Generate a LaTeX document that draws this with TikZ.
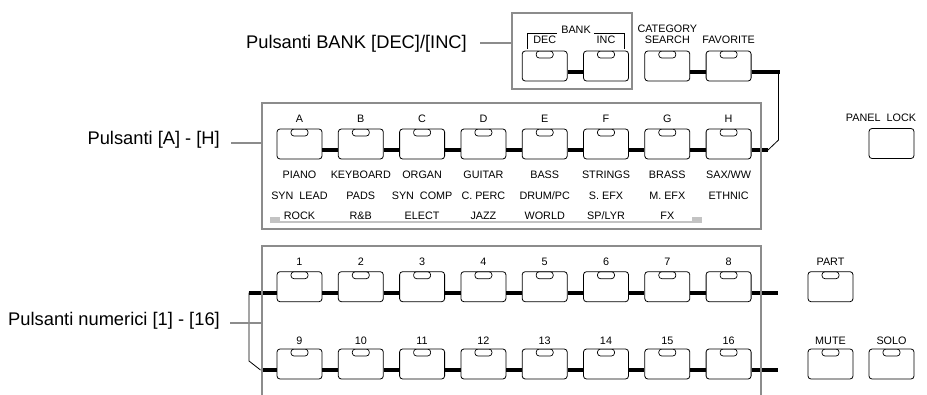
\documentclass[tikz,border=0pt]{standalone}
\usepackage{fontspec}
\setmainfont{Liberation Sans}
\definecolor{boxgray}{RGB}{140,140,140}
\definecolor{bargray}{RGB}{195,195,195}
\tikzset{
  btn/.style={draw, rounded corners=3pt, line width=0.8pt, minimum width=45pt, minimum height=30pt, inner sep=0pt},
  led/.style={btn, path picture={\draw[line width=0.7pt] ([xshift=-8.5pt]path picture bounding box.north) rectangle ([xshift=8.5pt,yshift=-7pt]path picture bounding box.north);}},
  lbl/.style={font=\fontsize{10.8}{12}\selectfont, anchor=base, inner sep=0pt},
  big/.style={font=\fontsize{18.3}{22}\selectfont, anchor=base east, inner sep=0pt},
  grp/.style={draw=boxgray, line width=2.2pt, inner sep=0pt},
  lead/.style={draw=boxgray, line width=2pt},
  bar/.style={line width=4pt},
  thin/.style={line width=0.8pt},
}
\begin{document}
\begin{tikzpicture}[x=1pt, y=-1pt]
\useasboundingbox (0,0) rectangle (927,394);
% top row
\node[led] (dec) at (544.7,66) {};
\node[led] (inc) at (606,66) {};
\node[led] (cat) at (667.3,66) {};
\node[led] (fav) at (728.6,66) {};
\node[lbl] (bank) at (576,33.5) {BANK};
\node[lbl] (ldec) at (544.7,43.8) {DEC};
\node[lbl] (linc) at (606,43.8) {INC};
\node[lbl] (lcat) at (667.3,32.8) {CATEGORY};
\node[lbl] (lsrc) at (667.3,43.8) {SEARCH};
\node[lbl] (lfav) at (728.6,43.8) {FAVORITE};
\draw[thin] (527,49) |- (557,33);
\draw[thin] (594,33) -| (624,49);
\draw[bar] ([yshift=-6pt]dec.east) -- ([yshift=-6pt]inc.west);
\draw[bar] ([yshift=-6pt]cat.east) -- ([yshift=-6pt]fav.west);
% A - H
\node[led] (a) at (299.5,144) {};
\node[led] (b) at (360.8,144) {};
\node[led] (c) at (422.1,144) {};
\node[led] (d) at (483.4,144) {};
\node[led] (e) at (544.7,144) {};
\node[led] (f) at (606,144) {};
\node[led] (g) at (667.3,144) {};
\node[led] (h) at (728.6,144) {};
\node[lbl] at (299.5,122) {A};
\node[lbl] at (360.8,122) {B};
\node[lbl] at (422.1,122) {C};
\node[lbl] at (483.4,122) {D};
\node[lbl] at (544.7,122) {E};
\node[lbl] at (606,122) {F};
\node[lbl] at (667.3,122) {G};
\node[lbl] at (728.6,122) {H};
\node[lbl] at (299.5,178) {PIANO};
\node[lbl] at (360.8,178) {KEYBOARD};
\node[lbl] at (422.1,178) {ORGAN};
\node[lbl] at (483.4,178) {GUITAR};
\node[lbl] at (544.7,178) {BASS};
\node[lbl] at (606,178) {STRINGS};
\node[lbl] at (667.3,178) {BRASS};
\node[lbl] at (728.6,178) {SAX/WW};
\node[lbl] at (299.5,199) {SYN~~LEAD};
\node[lbl] at (360.8,199) {PADS};
\node[lbl] at (422.1,199) {SYN~~COMP};
\node[lbl] at (483.4,199) {C. PERC};
\node[lbl] at (544.7,199) {DRUM/PC};
\node[lbl] at (606,199) {S. EFX};
\node[lbl] at (667.3,199) {M. EFX};
\node[lbl] at (728.6,199) {ETHNIC};
\node[lbl] at (299.5,219.5) {ROCK};
\node[lbl] at (360.8,219.5) {R\&B};
\node[lbl] at (422.1,219.5) {ELECT};
\node[lbl] at (483.4,219.5) {JAZZ};
\node[lbl] at (544.7,219.5) {WORLD};
\node[lbl] at (606,219.5) {SP/LYR};
\node[lbl] at (667.3,219.5) {FX};
\fill[bargray] (270,216.7) rectangle (280,222.5);
\fill[bargray] (691.7,216.7) rectangle (701.7,222.5);
\draw[bargray, line width=2pt] (270,221.5) -- (701.7,221.5);
\draw[bar] ([yshift=-6pt]a.east) -- ([yshift=-6pt]b.west);
\draw[bar] ([yshift=-6pt]b.east) -- ([yshift=-6pt]c.west);
\draw[bar] ([yshift=-6pt]c.east) -- ([yshift=-6pt]d.west);
\draw[bar] ([yshift=-6pt]d.east) -- ([yshift=-6pt]e.west);
\draw[bar] ([yshift=-6pt]e.east) -- ([yshift=-6pt]f.west);
\draw[bar] ([yshift=-6pt]f.east) -- ([yshift=-6pt]g.west);
\draw[bar] ([yshift=-6pt]g.east) -- ([yshift=-6pt]h.west);
% favorite -> H
\coordinate (favr) at (778.5,72);
\coordinate (favd) at (778.5,140);
\coordinate (hr) at (768,150);
\draw[bar] ([yshift=-6pt]fav.east) -- ([xshift=1pt]favr);
\draw[thin] (favr) -- (favd) -- (hr);
\draw[bar] ([yshift=-6pt]h.east) -- (hr);
% 1 - 16
\node[led] (n1) at (299.5,286.7) {};
\node[led] (n2) at (360.8,286.7) {};
\node[led] (n3) at (422.1,286.7) {};
\node[led] (n4) at (483.4,286.7) {};
\node[led] (n5) at (544.7,286.7) {};
\node[led] (n6) at (606,286.7) {};
\node[led] (n7) at (667.3,286.7) {};
\node[led] (n8) at (728.6,286.7) {};
\node[led] (n9) at (299.5,364) {};
\node[led] (n10) at (360.8,364) {};
\node[led] (n11) at (422.1,364) {};
\node[led] (n12) at (483.4,364) {};
\node[led] (n13) at (544.7,364) {};
\node[led] (n14) at (606,364) {};
\node[led] (n15) at (667.3,364) {};
\node[led] (n16) at (728.6,364) {};
\node[lbl] at (299.5,265.5) {1};
\node[lbl] at (360.8,265.5) {2};
\node[lbl] at (422.1,265.5) {3};
\node[lbl] at (483.4,265.5) {4};
\node[lbl] at (544.7,265.5) {5};
\node[lbl] at (606,265.5) {6};
\node[lbl] at (667.3,265.5) {7};
\node[lbl] at (728.6,265.5) {8};
\node[lbl] at (299.5,344) {9};
\node[lbl] at (360.8,344) {10};
\node[lbl] at (422.1,344) {11};
\node[lbl] at (483.4,344) {12};
\node[lbl] at (544.7,344) {13};
\node[lbl] at (606,344) {14};
\node[lbl] at (667.3,344) {15};
\node[lbl] at (728.6,344) {16};
\draw[bar] ([yshift=-6pt]n1.east) -- ([yshift=-6pt]n2.west);
\draw[bar] ([yshift=-6pt]n2.east) -- ([yshift=-6pt]n3.west);
\draw[bar] ([yshift=-6pt]n3.east) -- ([yshift=-6pt]n4.west);
\draw[bar] ([yshift=-6pt]n4.east) -- ([yshift=-6pt]n5.west);
\draw[bar] ([yshift=-6pt]n5.east) -- ([yshift=-6pt]n6.west);
\draw[bar] ([yshift=-6pt]n6.east) -- ([yshift=-6pt]n7.west);
\draw[bar] ([yshift=-6pt]n7.east) -- ([yshift=-6pt]n8.west);
\draw[bar] ([yshift=-6pt]n9.east) -- ([yshift=-6pt]n10.west);
\draw[bar] ([yshift=-6pt]n10.east) -- ([yshift=-6pt]n11.west);
\draw[bar] ([yshift=-6pt]n11.east) -- ([yshift=-6pt]n12.west);
\draw[bar] ([yshift=-6pt]n12.east) -- ([yshift=-6pt]n13.west);
\draw[bar] ([yshift=-6pt]n13.east) -- ([yshift=-6pt]n14.west);
\draw[bar] ([yshift=-6pt]n14.east) -- ([yshift=-6pt]n15.west);
\draw[bar] ([yshift=-6pt]n15.east) -- ([yshift=-6pt]n16.west);
\coordinate (nl1) at (249,292.7);
\coordinate (nl2) at (249,361);
\coordinate (nl3) at (260.5,370);
\coordinate (nr1) at (778,292.7);
\coordinate (nr2) at (778,370);
\draw[bar] ([xshift=-0.5pt]nl1) -- ([yshift=-6pt]n1.west);
\draw[thin] (nl1) -- (nl2) -- (nl3);
\draw[bar] (nl3) -- ([yshift=-6pt]n9.west);
\draw[bar] ([yshift=-6pt]n8.east) -- (nr1);
\draw[bar] ([yshift=-6pt]n16.east) -- (nr2);
% right side
\node[btn] (lock) at (891.5,143.5) {};
\node[lbl] (llock) at (881,121.8) {PANEL~~LOCK};
\node[led] (part) at (830.5,286.7) {};
\node[led] (mute) at (830.5,364) {};
\node[led] (solo) at (891.5,364) {};
\node[lbl] (lpart) at (830.5,265.5) {PART};
\node[lbl] (lmute) at (830.5,344) {MUTE};
\node[lbl] (lsolo) at (891.5,344) {SOLO};
% groups
\node[grp, minimum width=120pt, minimum height=76pt] (bankgrp) at (572,51) {};
\node[grp, minimum width=499pt, minimum height=126pt] (ahgrp) at (511.5,166) {};
\coordinate (numtl) at (262,246);
\draw[grp, line join=miter] (262,400) -- (numtl) -- (761,246) -- (761,400);
% labels
\node[big] (lblbank) at (467,48) {Pulsanti BANK [DEC]/[INC]};
\node[big] (lblah) at (220,144) {Pulsanti [A] - [H]};
\node[big] (lblnum) at (220,325) {Pulsanti numerici [1] - [16]};
\coordinate (bklead) at (480,43);
\coordinate (ahlead) at (231,143);
\coordinate (numlead) at (230,322.7);
\draw[lead] (bklead) -- (bklead -| bankgrp.west);
\draw[lead] (ahlead) -- (ahlead -| ahgrp.west);
\draw[lead] (numlead) -- (numlead -| numtl);
\end{tikzpicture}
\end{document}
